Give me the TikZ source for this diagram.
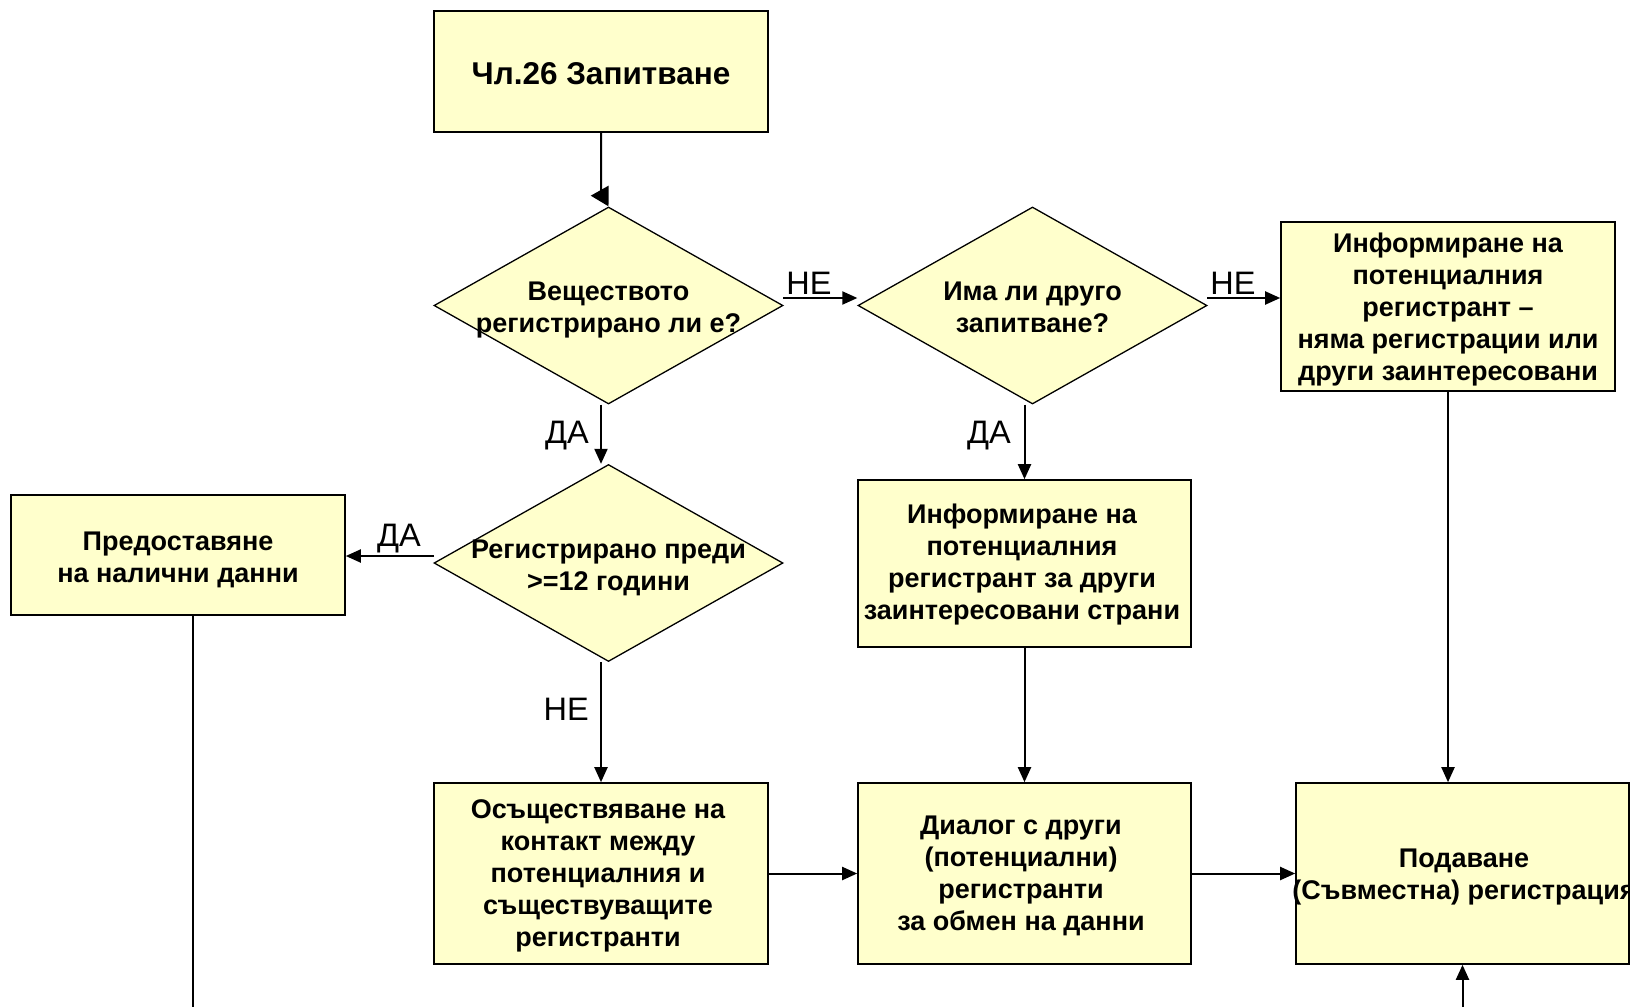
\documentclass[tikz,border=0pt]{standalone}
\usepackage{fontspec}
\setmainfont{Liberation Sans}
\usetikzlibrary{shapes.geometric,arrows.meta}
\definecolor{boxfill}{HTML}{FFFFCC}
\begin{document}
\begin{tikzpicture}[x=1pt,y=-1pt,
  box/.style={draw=black,line width=1.6pt,fill=boxfill,inner sep=0pt,align=center,font=\bfseries\fontsize{27}{32}\selectfont},
  dia/.style={draw=black,line width=1.3pt,fill=boxfill,diamond,inner sep=0pt,minimum width=349pt,minimum height=197pt},
  txt/.style={align=center,font=\bfseries\fontsize{27}{32}\selectfont,inner sep=0pt},
  lab/.style={font=\fontsize{32.5}{34}\selectfont,inner sep=1pt},
  conn/.style={line width=2pt,-{Triangle[length=15pt,width=13pt]}},
  plain/.style={line width=2pt}
]
\useasboundingbox (0,0) rectangle (1630,1007);

% boxes
\node[box,minimum width=334pt,minimum height=121pt] (top) at (601,71.5) {};
\node[txt,font=\bfseries\fontsize{31.5}{34}\selectfont] (topt) at (601,73.5) {Чл.26 Запитване};
\node[box,minimum width=334pt,minimum height=169pt] (info1) at (1448,306.5) {};
\node[txt] (info1t) at (1448,309.5) {Информиране на\\потенциалния\\регистрант –\\няма регистрации или\\други заинтересовани};
\node[box,minimum width=334pt,minimum height=120pt] (prov) at (178,555) {};
\node[txt] (provt) at (178,560) {Предоставяне\\на налични данни};
\node[box,minimum width=333pt,minimum height=167pt] (info2) at (1024.5,563.5) {};
\node[txt] (info2t) at (1022,565) {Информиране на\\потенциалния\\регистрант за други\\заинтересовани страни};
\node[box,minimum width=334pt,minimum height=181pt] (contact) at (601,873.5) {};
\node[txt] (contactt) at (598,876) {Осъществяване на\\контакт между\\потенциалния и\\съществуващите\\регистранти};
\node[box,minimum width=333pt,minimum height=181pt] (dialog) at (1024.5,873.5) {};
\node[txt] (dialogt) at (1021,876) {Диалог с други\\(потенциални)\\регистранти\\за обмен на данни};
\node[box,minimum width=333pt,minimum height=181pt] (submit) at (1462.5,873.5) {};
\node[txt] (submitt) at (1464,877) {Подаване\\(Съвместна) регистрация};

% diamonds
\node[dia] (d1) at (608.5,305.5) {};
\node[txt] (d1t) at (608.5,310) {Веществото\\регистрирано ли е?};
\node[dia] (d2) at (1032.5,305.5) {};
\node[txt] (d2t) at (1032.5,307) {Има ли друго\\запитване?};
\node[dia] (d3) at (608.5,563) {};
\node[txt] (d3t) at (608.5,568) {Регистрирано преди\\>=12 години};

% connectors
\coordinate (a1) at (601,193);
\draw[line width=2pt,-{Triangle[length=18pt,width=20pt]}] (top.south) -- (a1) -- (d1.north);

\coordinate (n1s) at (783,298);
\draw[conn] (n1s) -- (n1s -| d2.west);
\node[lab,anchor=south] (l1) at (809,296) {НЕ};

\coordinate (n2s) at (1207,298);
\draw[conn] (n2s) -- (n2s -| info1.west);
\node[lab,anchor=south] (l2) at (1233,296) {НЕ};

\draw[conn] (top.south |- d1.south) -- (top.south |- d3.north);
\node[lab,anchor=east] (l3) at (590,436) {ДА};

\draw[conn] (info2.north |- d2.south) -- (info2.north);
\node[lab,anchor=east] (l4) at (1012,436) {ДА};

\coordinate (y3) at (434,556);
\draw[conn] (y3) -- (y3 -| prov.east);
\node[lab,anchor=south] (l5) at (399,554) {ДА};

\draw[conn] (contact.north |- d3.south) -- (contact.north);
\node[lab,anchor=east] (l6) at (590,709) {НЕ};

\draw[conn] (info2.south) -- (dialog.north);
\draw[conn] (info1.south) -- (info1.south |- submit.north);
\draw[conn] (contact.east) -- (dialog.west);
\draw[conn] (dialog.east) -- (submit.west);

\coordinate (pend) at (193,1007);
\draw[plain] (prov.south -| pend) -- (pend);

\coordinate (bstart) at (1462.5,1007);
\draw[conn] (bstart) -- (submit.south);
\end{tikzpicture}
\end{document}
